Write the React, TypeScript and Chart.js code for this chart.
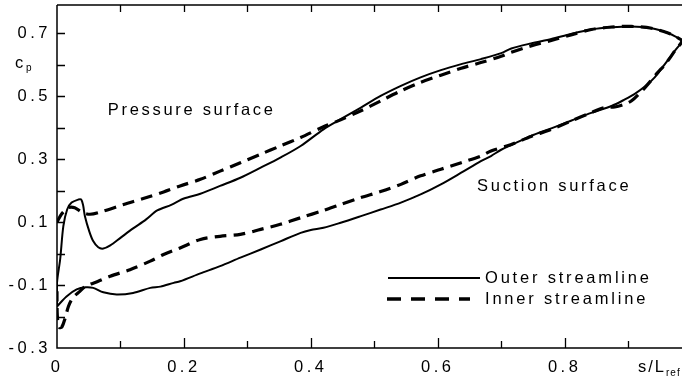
import React, { useEffect, useRef } from "react";
import { Chart, registerables } from "chart.js";
Chart.register(...registerables);

// Outer streamline (solid): trailing edge -> pressure side -> leading edge -> suction side -> trailing edge
const outerX = [
  0.0, 0.0, 0.005, 0.01, 0.016, 0.023, 0.034, 0.038, 0.041, 0.044, 0.051, 0.057, 0.065, 0.073, 0.084, 0.1,
  0.12, 0.14, 0.158, 0.18, 0.2, 0.226, 0.257, 0.289, 0.321, 0.352, 0.384, 0.42, 0.447, 0.479, 0.51,
  0.542, 0.573, 0.605, 0.637, 0.668, 0.7, 0.716, 0.747, 0.779, 0.81, 0.842, 0.874, 0.905, 0.937,
  0.963, 0.978, 0.985,
  0.974, 0.958, 0.942, 0.926, 0.91, 0.895, 0.874, 0.842, 0.81, 0.779, 0.747, 0.716, 0.7, 0.684,
  0.668, 0.637, 0.605, 0.573, 0.542, 0.51, 0.479, 0.447, 0.42, 0.4, 0.384, 0.352, 0.321, 0.289,
  0.257, 0.226, 0.194, 0.184, 0.163, 0.147, 0.12, 0.094, 0.073, 0.057, 0.045, 0.031, 0.015, 0.0,
];
const outerY = [
  -0.168, -0.093, -0.018, 0.087, 0.14, 0.162, 0.172, 0.172, 0.155, 0.119, 0.07, 0.04, 0.02, 0.016, 0.026, 0.05,
  0.08, 0.108, 0.137, 0.155, 0.175, 0.19, 0.215, 0.241, 0.273, 0.305, 0.342, 0.395, 0.427, 0.464, 0.501,
  0.533, 0.56, 0.583, 0.602, 0.618, 0.637, 0.652, 0.668, 0.682, 0.698, 0.712, 0.719, 0.722, 0.716,
  0.701, 0.686, 0.676,
  0.645, 0.602, 0.56, 0.53, 0.507, 0.49, 0.469, 0.447, 0.422, 0.398, 0.374, 0.345, 0.33, 0.31,
  0.294, 0.257, 0.22, 0.188, 0.162, 0.14, 0.119, 0.098, 0.082, 0.075, 0.066, 0.039, 0.013, -0.013,
  -0.04, -0.063, -0.088, -0.093, -0.105, -0.109, -0.125, -0.13, -0.123, -0.109, -0.107, -0.114, -0.136, -0.168,
];

// Inner streamline (dashed)
const innerX = [
  0.0, 0.007, 0.018, 0.028, 0.039, 0.052, 0.073, 0.105, 0.136, 0.168, 0.194, 0.226, 0.257, 0.289,
  0.321, 0.352, 0.384, 0.42, 0.447, 0.479, 0.51, 0.542, 0.573, 0.605, 0.637, 0.668, 0.7, 0.716, 0.747,
  0.779, 0.81, 0.842, 0.874, 0.905, 0.937, 0.963, 0.978, 0.985,
  0.974, 0.958, 0.947, 0.929, 0.916, 0.905, 0.895, 0.879, 0.863, 0.842, 0.81, 0.779, 0.747, 0.716,
  0.684, 0.668, 0.637, 0.605, 0.573, 0.542, 0.51, 0.479, 0.447, 0.42, 0.384, 0.352, 0.321, 0.289,
  0.257, 0.226, 0.194, 0.168, 0.147, 0.115, 0.084, 0.065, 0.045, 0.036, 0.025, 0.018, 0.013, 0.008,
  0.004, 0.001, 0.0, 0.0,
];
const innerY = [
  0.1, 0.125, 0.146, 0.146, 0.132, 0.125, 0.135, 0.156, 0.175, 0.196, 0.215, 0.236, 0.262, 0.289,
  0.316, 0.342, 0.369, 0.403, 0.425, 0.454, 0.485, 0.517, 0.544, 0.567, 0.589, 0.607, 0.627, 0.64, 0.66,
  0.677, 0.695, 0.712, 0.72, 0.722, 0.716, 0.701, 0.686, 0.676,
  0.645, 0.6, 0.576, 0.533, 0.505, 0.485, 0.475, 0.466, 0.464, 0.448, 0.421, 0.395, 0.372, 0.347,
  0.326, 0.31, 0.289, 0.268, 0.247, 0.22, 0.197, 0.178, 0.156, 0.137, 0.114, 0.093, 0.077, 0.061,
  0.055, 0.045, 0.018, -0.003, -0.024, -0.051, -0.072, -0.088, -0.104, -0.12, -0.14, -0.168, -0.204, -0.232,
  -0.235, -0.21, -0.16, -0.12,
];

const seriesNames = ["Outer streamline", "Inner streamline"];
const xTickLabels = ["0", "0.2", "0.4", "0.6", "0.8"];
const yTickLabels = ["-0.3", "-0.1", "0.1", "0.3", "0.5", "0.7"];
const xTitle = ["s/L", "ref"];
const yTitle = ["c", "p"];
const annotations = [
  { text: "Pressure surface", x: 0.08, y: 0.455 },
  { text: "Suction surface", x: 0.662, y: 0.212 },
];

const FONT = "'Liberation Sans', Arial, sans-serif";

function pickLabel(list: string[], v: number): string {
  for (const s of list) {
    if (Math.abs(parseFloat(s) - v) < 1e-6) return s;
  }
  return "";
}

const framePlugin = {
  id: "frame",
  beforeDraw(chart: any) {
    chart.ctx.letterSpacing = "3.5px";
  },
  beforeDatasetsDraw(chart: any) {
    const { ctx, chartArea } = chart;
    const xs = chart.scales.x;
    const ys = chart.scales.y;
    const { left, right, top, bottom } = chartArea;
    ctx.save();
    ctx.strokeStyle = "#000";
    ctx.lineWidth = 1.5;
    ctx.beginPath();
    ctx.moveTo(left, top);
    ctx.lineTo(right + 2, top);
    ctx.moveTo(left, top);
    ctx.lineTo(left, bottom);
    ctx.lineTo(right + 2, bottom);
    ctx.stroke();
    ctx.lineWidth = 1.3;
    ctx.beginPath();
    for (let k = 0; k <= 9; k++) {
      const px = Math.round(xs.getPixelForValue(k / 10)) + 0.5;
      const len = k % 2 === 0 ? 10 : 7;
      if (k > 0) {
        ctx.moveTo(px, bottom);
        ctx.lineTo(px, bottom - len);
        ctx.moveTo(px, top);
        ctx.lineTo(px, top + 7);
      }
    }
    for (let k = -2; k <= 7; k++) {
      const py = Math.round(ys.getPixelForValue(k / 10)) + 0.5;
      ctx.moveTo(left, py);
      ctx.lineTo(left + 8, py);
    }
    ctx.stroke();
    ctx.restore();
  },
  afterDraw(chart: any) {
    const { ctx } = chart;
    const xs = chart.scales.x;
    const ys = chart.scales.y;
    ctx.save();
    ctx.fillStyle = "#000";
    ctx.textBaseline = "alphabetic";
    ctx.textAlign = "left";
    // axis titles
    ctx.letterSpacing = "2px";
    ctx.font = `16.5px ${FONT}`;
    ctx.fillText(xTitle[0], 638, 372);
    const w0 = ctx.measureText(xTitle[0]).width;
    ctx.font = `10px ${FONT}`;
    ctx.letterSpacing = "1px";
    ctx.fillText(xTitle[1], 638 + w0, 376);
    ctx.font = `16.5px ${FONT}`;
    ctx.fillText(yTitle[0], 15, 68);
    ctx.font = `10px ${FONT}`;
    ctx.fillText(yTitle[1], 26, 71);
    // annotations
    ctx.font = `16.5px ${FONT}`;
    ctx.letterSpacing = "2.7px";
    ctx.textBaseline = "middle";
    for (const a of annotations) {
      ctx.fillText(a.text, xs.getPixelForValue(a.x), ys.getPixelForValue(a.y));
    }
    // legend
    const ds = chart.data.datasets;
    const rows = [
      { y: 278, x1: 388, x2: 480 },
      { y: 299, x1: 387, x2: 470 },
    ];
    ctx.letterSpacing = "2.8px";
    rows.forEach((r, i) => {
      const d = ds[i];
      ctx.save();
      ctx.strokeStyle = d.borderColor;
      ctx.lineWidth = i === 0 ? 2 : 3.5;
      ctx.setLineDash(i === 0 ? [] : [14, 10]);
      ctx.beginPath();
      ctx.moveTo(r.x1, r.y);
      ctx.lineTo(r.x2, r.y);
      ctx.stroke();
      ctx.restore();
      ctx.fillText(d.label, 485, r.y);
    });
    ctx.restore();
    ctx.letterSpacing = "0px";
  },
};

export default function App() {
  const ref = useRef<HTMLCanvasElement | null>(null);
  useEffect(() => {
    document.body.style.margin = "0";
    const canvas = ref.current;
    if (!canvas) return;
    const toPts = (xs: number[], ys: number[]) => xs.map((x, i) => ({ x, y: ys[i] }));
    const chart = new Chart(canvas, {
      type: "scatter",
      data: {
        datasets: [
          {
            label: seriesNames[0],
            data: toPts(outerX, outerY),
            showLine: true,
            borderColor: "#000",
            borderWidth: 2,
            pointRadius: 0,
            tension: 0.3,
            fill: false,
          },
          {
            label: seriesNames[1],
            data: toPts(innerX, innerY),
            showLine: true,
            borderColor: "#000",
            borderWidth: 3.2,
            borderDash: [12, 7],
            pointRadius: 0,
            tension: 0.3,
            fill: false,
          },
        ],
      },
      options: {
        animation: false,
        responsive: false,
        layout: { padding: { top: 5, right: 0, left: 0, bottom: 0 } },
        plugins: { legend: { display: false }, tooltip: { enabled: false } },
        scales: {
          x: {
            type: "linear",
            min: 0,
            max: 0.985,
            grid: { display: false, drawTicks: false },
            border: { display: false },
            afterFit: (s: any) => {
              s.height = 29;
              s.paddingLeft = 0;
              s.paddingRight = 0;
              s.paddingTop = 0;
              s.paddingBottom = 0;
            },
            ticks: {
              stepSize: 0.1,
              includeBounds: true,
              autoSkip: false,
              maxRotation: 0,
              padding: 10,
              color: "#000",
              font: { family: FONT, size: 16.5 },
              callback: (v: any) => pickLabel(xTickLabels, Number(v)),
            },
          },
          y: {
            type: "linear",
            min: -0.3,
            max: 0.79,
            grid: { display: false, drawTicks: false },
            border: { display: false },
            afterFit: (s: any) => {
              s.width = 57;
              s.paddingLeft = 0;
              s.paddingRight = 0;
              s.paddingTop = 0;
              s.paddingBottom = 0;
            },
            ticks: {
              stepSize: 0.1,
              includeBounds: true,
              autoSkip: false,
              padding: 6,
              color: "#000",
              font: { family: FONT, size: 16.5 },
              callback: (v: any) => pickLabel(yTickLabels, Number(v)),
            },
          },
        },
      },
      plugins: [framePlugin],
    } as any);
    return () => chart.destroy();
  }, []);
  return (
    <div style={{ width: 682, height: 377 }}>
      <canvas ref={ref} width={682} height={377} style={{ display: "block" }} />
    </div>
  );
}
